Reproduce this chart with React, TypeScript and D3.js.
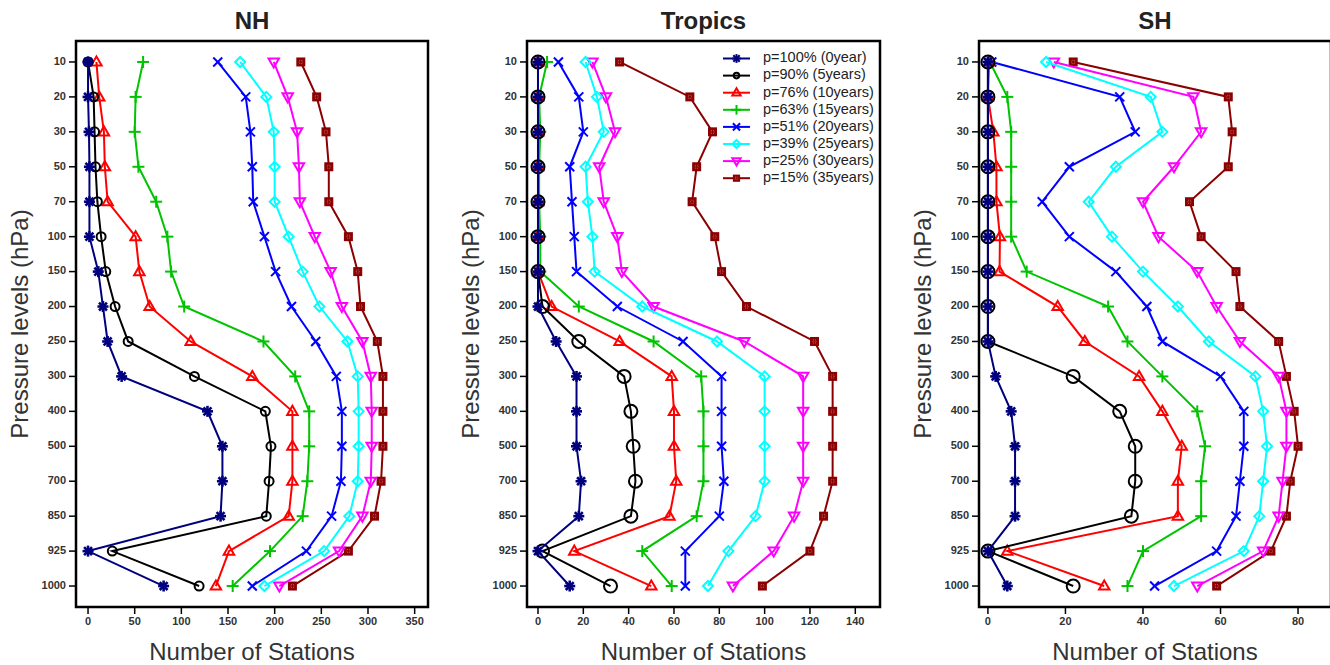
import * as d3 from "d3";

// pressure levels (hPa), top to bottom
const levels = ["10", "20", "30", "50", "70", "100", "150", "200", "250", "300", "400", "500", "700", "850", "925", "1000"];

const seriesNames = [
  "p=100% (0year)", "p=90% (5years)", "p=76% (10years)", "p=63% (15years)",
  "p=51% (20years)", "p=39% (25years)", "p=25% (30years)", "p=15% (35years)",
];
const seriesColors = ["#00007f", "#000000", "#ff0000", "#00c400", "#0000ff", "#00ffff", "#ff00ff", "#8b0000"];
const seriesMarkers = ["asterisk", "circle", "triUp", "plus", "cross", "diamond", "triDown", "square"];

// NH
const nhP100 = [0, 0, 1, 1.5, 1.5, 1.5, 11, 16, 21, 36, 128, 144, 144, 142, 0, 81];
const nhP90 = [0, 6, 7, 8, 10, 14, 19, 29, 43, 114, 190, 196, 194, 191, 26, 119];
const nhP76 = [9, 12, 17, 18, 21, 51, 55, 66, 110, 176, 219, 219, 219, 215, 151, 137];
const nhP63 = [59, 51, 50, 54, 73, 85, 89, 103, 188, 222, 237, 237, 235, 230, 195, 155];
const nhP51 = [139, 169, 174, 176, 177, 189, 201, 218, 244, 266, 272, 272, 271, 261, 234, 176];
const nhP39 = [163, 191, 199, 200, 200, 215, 230, 248, 278, 289, 290, 290, 289, 280, 253, 189];
const nhP25 = [199, 214, 224, 226, 227, 243, 260, 272, 294, 303, 304, 304, 303, 294, 269, 205];
const nhP15 = [228, 245, 255, 258, 258, 279, 289, 292, 310, 316, 316, 316, 314, 307, 279, 219];

// Tropics
const trP100 = [0, 0, 0, 0, 0, 0, 0, 0, 8, 17, 17, 17, 19, 18, 0, 14];
const trP90 = [0, 0, 0, 0, 0, 0, 0, 2, 18, 38, 41, 42, 43, 41, 2, 32];
const trP76 = [0, 0, 0, 0, 0, 0, 0, 6, 36, 59, 60, 60, 61, 58, 16, 50];
const trP63 = [4, 0.5, 1, 0.5, 0.5, 1, 1, 18, 51, 72, 73, 73, 73, 70, 46, 59];
const trP51 = [9, 18, 20, 14, 15, 16, 17, 35, 64, 81, 81, 81, 82, 80, 65, 65];
const trP39 = [21, 26, 29, 21, 22, 24, 25, 46, 79, 100, 100, 100, 100, 96, 84, 75];
const trP25 = [24, 30, 34, 27, 29, 35, 37, 51, 91, 117, 117, 117, 117, 113, 104, 86];
const trP15 = [36, 67, 77, 70, 68, 78, 81, 92, 122, 130, 130, 130, 130, 126, 120, 99];

// SH
const shP100 = [0, 0, 0, 0, 0, 0, 0, 0, 0, 2, 6, 7, 7, 7, 0, 5];
const shP90 = [0, 0, 0, 0, 0, 0, 0, 0, 0, 22, 34, 38, 38, 37, 0, 22];
const shP76 = [0.3, 0, 1.4, 2.2, 2.2, 3.1, 3, 18, 25, 39, 45, 50, 49, 49, 5, 30];
const shP63 = [0.5, 5, 6, 6, 6, 6, 10, 31, 36, 45, 54, 56, 55, 55, 40, 36];
const shP51 = [1, 34, 38, 21, 14, 21, 33, 41, 45, 60, 66, 66, 65, 64, 59, 43];
const shP39 = [15, 42, 45, 33, 26, 32, 40, 49, 57, 69, 71, 72, 71, 70, 66, 48];
const shP25 = [17, 53, 55, 48, 40, 44, 54, 59, 65, 75, 77, 77, 76, 75, 71, 54];
const shP15 = [22, 62, 63, 62, 52, 55, 64, 65, 75, 77, 79, 80, 78, 77, 73, 59];

const nhTicks = [0, 50, 100, 150, 200, 250, 300, 350];
const trTicks = [0, 20, 40, 60, 80, 100, 120, 140];
const shTicks = [0, 20, 40, 60, 80];

const panels = [
  { title: "NH", left: 76, right: 428, domain: [-12.9, 364.3], ticks: nhTicks, circleR: 4.5,
    series: [nhP100, nhP90, nhP76, nhP63, nhP51, nhP39, nhP25, nhP15] },
  { title: "Tropics", left: 527, right: 880, domain: [-4.85, 150.9], ticks: trTicks, circleR: 6.5,
    series: [trP100, trP90, trP76, trP63, trP51, trP39, trP25, trP15] },
  { title: "SH", left: 979, right: 1331, domain: [-2.3, 88.5], ticks: shTicks, circleR: 6.5,
    series: [shP100, shP90, shP76, shP63, shP51, shP39, shP25, shP15] },
];

const top = 41;
const bottom = 607;
const font = "'Liberation Sans', Arial, Helvetica, sans-serif";

const Marker = ({ kind, x, y, color, s = 1, circleR = 4.5 }) => {
  const sw = 2;
  if (kind === "asterisk") {
    const r = 5.5 * s, d = r * 0.72;
    return (
      <g stroke={color} strokeWidth={2.6 * s}>
        <line x1={x - r} y1={y} x2={x + r} y2={y} />
        <line x1={x} y1={y - r} x2={x} y2={y + r} />
        <line x1={x - d} y1={y - d} x2={x + d} y2={y + d} />
        <line x1={x - d} y1={y + d} x2={x + d} y2={y - d} />
      </g>
    );
  }
  if (kind === "circle") {
    return <circle cx={x} cy={y} r={circleR * s} fill="none" stroke={color} strokeWidth={sw} />;
  }
  if (kind === "triUp" || kind === "triDown") {
    const r = 5.5 * s, dir = kind === "triUp" ? 1 : -1;
    const pts = [[x, y - dir * r], [x - r * 0.95, y + dir * r * 0.65], [x + r * 0.95, y + dir * r * 0.65]];
    return <polygon points={pts.map(p => p.join(",")).join(" ")} fill="none" stroke={color} strokeWidth={sw} />;
  }
  if (kind === "plus") {
    const r = 6 * s;
    return (
      <g stroke={color} strokeWidth={sw}>
        <line x1={x - r} y1={y} x2={x + r} y2={y} />
        <line x1={x} y1={y - r} x2={x} y2={y + r} />
      </g>
    );
  }
  if (kind === "cross") {
    const r = 4.5 * s;
    return (
      <g stroke={color} strokeWidth={sw}>
        <line x1={x - r} y1={y - r} x2={x + r} y2={y + r} />
        <line x1={x - r} y1={y + r} x2={x + r} y2={y - r} />
      </g>
    );
  }
  if (kind === "diamond") {
    const r = 5 * s;
    return <polygon points={`${x},${y - r} ${x + r},${y} ${x},${y + r} ${x - r},${y}`} fill="none" stroke={color} strokeWidth={sw} />;
  }
  // filled square with a dotted centre
  const h = 4.5 * s;
  return (
    <g>
      <rect x={x - h} y={y - h} width={2 * h} height={2 * h} fill={color} />
      <rect x={x - 1.5 * s} y={y - 1.5 * s} width={3 * s} height={3 * s} fill="none" stroke="#c87070" strokeWidth={0.8} strokeDasharray="1,1" />
    </g>
  );
};

const Panel = ({ p }) => {
  const x = d3.scaleLinear().domain(p.domain).range([p.left, p.right]);
  const y = d3.scalePoint().domain(levels).range([top, bottom]).padding(0.6);
  const line = d3.line().x(d => x(d[0])).y(d => y(d[1]));
  const cx = (p.left + p.right) / 2;
  const cy = (top + bottom) / 2;
  // later series are drawn first so the 0-year markers sit on top
  const order = d3.range(p.series.length).reverse();
  return (
    <g>
      <text x={cx} y={29} textAnchor="middle" fontSize={24} fontWeight="bold" fill="#222">{p.title}</text>
      <text transform={`translate(${p.left - 54},${cy}) rotate(-90)`} textAnchor="middle" dominantBaseline="middle" fontSize={24} fill="#333">Pressure levels (hPa)</text>
      <text x={cx} y={660} textAnchor="middle" fontSize={24} fill="#333">Number of Stations</text>
      {levels.map(l => (
        <g key={l}>
          <line x1={p.left - 7} x2={p.left} y1={y(l)} y2={y(l)} stroke="#000" strokeWidth={1.5} />
          <text x={p.left - 10} y={y(l)} textAnchor="end" dominantBaseline="middle" fontSize={11} fontWeight="bold" fill="#333">{l}</text>
        </g>
      ))}
      {p.ticks.map(t => (
        <g key={t}>
          <line x1={x(t)} x2={x(t)} y1={bottom} y2={bottom + 7} stroke="#000" strokeWidth={1.5} />
          <text x={x(t)} y={625} textAnchor="middle" fontSize={11} fontWeight="bold" fill="#333">{t}</text>
        </g>
      ))}
      {order.map(i => {
        const pts = p.series[i].map((v, j) => [v, levels[j]]);
        return (
          <g key={i}>
            <path d={line(pts)} fill="none" stroke={seriesColors[i]} strokeWidth={2} />
            {pts.map((d, j) => (
              <Marker key={j} kind={seriesMarkers[i]} x={x(d[0])} y={y(d[1])} color={seriesColors[i]} circleR={p.circleR} />
            ))}
          </g>
        );
      })}
      <rect x={p.left} y={top} width={p.right - p.left} height={bottom - top} fill="none" stroke="#000" strokeWidth={2.5} />
    </g>
  );
};

const Legend = () => {
  const x0 = 723, x1 = 750, tx = 763, y0 = 58.5, dy = 17.1;
  return (
    <g>
      {seriesNames.map((name, i) => {
        const yy = y0 + i * dy;
        return (
          <g key={name}>
            <line x1={x0} x2={x1} y1={yy} y2={yy} stroke={seriesColors[i]} strokeWidth={2} />
            <Marker kind={seriesMarkers[i]} x={(x0 + x1) / 2} y={yy} color={seriesColors[i]} s={0.8} circleR={3.5} />
            <text x={tx} y={yy} dominantBaseline="middle" fontSize={14.5} fill="#222">{name}</text>
          </g>
        );
      })}
    </g>
  );
};

export default function App() {
  return (
    <svg width={1330} height={665} style={{ position: "absolute", left: 0, top: 0, background: "#fff" }} fontFamily={font}>
      <rect width={1330} height={665} fill="#fff" />
      {panels.map(p => <Panel key={p.title} p={p} />)}
      <Legend />
    </svg>
  );
}
